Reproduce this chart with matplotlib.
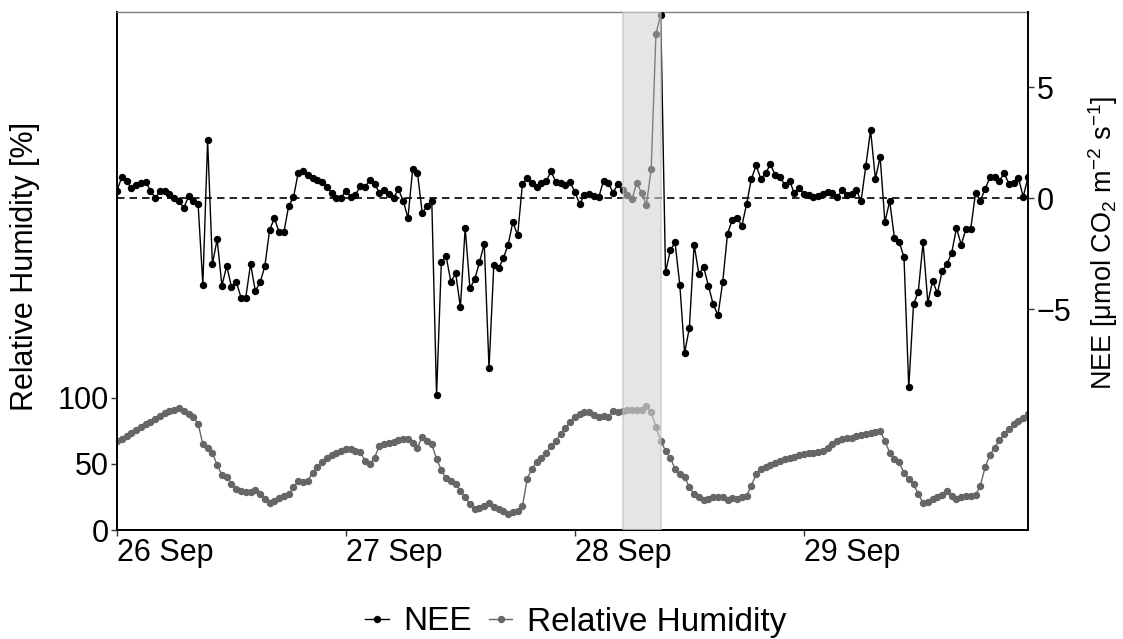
import numpy as np
import pandas as pd
import matplotlib
matplotlib.use("Agg")
import matplotlib.pyplot as plt
import matplotlib.dates as mdates
from matplotlib.lines import Line2D

plt.rcParams['font.family'] = ['Liberation Sans', 'DejaVu Sans']
plt.rcParams['mathtext.fontset'] = 'custom'
plt.rcParams['mathtext.rm'] = 'Liberation Sans'
plt.rcParams['mathtext.it'] = 'Liberation Sans:italic'

# half-hourly series, 26 Sep 00:00 to 29 Sep 23:30
times = pd.date_range('2019-09-26 00:00', periods=192, freq='30min')

nee = [
    0.34, 0.94, 0.75, 0.45, 0.60, 0.68, 0.74, 0.34, 0.00, 0.30, 0.30, 0.20,
    0.00, -0.12, -0.45, 0.08, -0.12, -0.26, -3.90, 2.60, -2.97, -1.86, -3.95, -3.05,
    -4.00, -3.77, -4.48, -4.48, -2.97, -4.18, -3.80, -3.07, -1.42, -0.92, -1.53, -1.53,
    -0.35, 0.03, 1.15, 1.21, 1.05, 0.90, 0.82, 0.74, 0.48, 0.24, 0.00, 0.00,
    0.34, 0.06, 0.14, 0.55, 0.49, 0.82, 0.64, 0.24, 0.36, 0.18, 0.02, 0.39,
    -0.11, -0.90, 1.32, 1.12, -0.68, -0.35, -0.15, -8.88, -2.89, -2.62, -3.77, -3.39,
    -4.91, -1.35, -4.07, -3.65, -2.89, -2.06, -7.67, -3.02, -3.17, -2.71, -2.10, -1.08,
    -1.68, 0.64, 0.89, 0.67, 0.48, 0.70, 0.77, 1.20, 0.74, 0.67, 0.59, 0.71,
    0.28, -0.27, 0.15, 0.20, 0.11, 0.03, 0.79, 0.70, 0.24, 0.62, 0.35, 0.15,
    -0.03, 0.70, 0.21, -0.30, 1.32, 7.41, 8.24, -3.35, -2.36, -2.00, -3.91, -6.98,
    -5.85, -2.10, -3.42, -3.11, -3.95, -4.79, -5.27, -3.77, -1.61, -0.97, -0.88, -1.26,
    -0.27, 0.86, 1.47, 0.86, 1.12, 1.53, 1.03, 0.97, 0.59, 0.79, 0.21, 0.44,
    0.20, 0.15, 0.03, 0.08, 0.18, 0.27, 0.23, 0.03, 0.35, 0.15, 0.18, 0.38,
    -0.15, 1.45, 3.06, 0.86, 1.85, -1.08, -0.14, -1.80, -1.97, -2.67, -8.53, -4.79,
    -4.21, -2.00, -4.71, -3.73, -4.29, -3.30, -2.97, -2.47, -1.35, -2.10, -1.38, -1.38,
    0.23, -0.11, 0.39, 0.94, 0.94, 0.77, 1.12, 0.64, 0.67, 0.89, 0.06, 0.94,
]

rh = [
    67.4, 69.2, 71.2, 73.7, 75.8, 78.3, 80.1, 81.9, 83.9, 86.4, 88.5, 90.2,
    91.0, 92.0, 89.7, 87.7, 85.7, 80.5, 64.9, 62.4, 58.6, 49.1, 41.8, 40.3,
    34.8, 31.0, 29.7, 29.0, 28.5, 30.2, 27.2, 23.5, 20.4, 22.1, 23.9, 25.4,
    27.2, 32.2, 37.2, 36.0, 37.2, 43.5, 47.8, 51.1, 54.3, 56.6, 58.6, 59.9,
    61.1, 61.6, 59.9, 59.1, 52.3, 49.8, 54.8, 63.6, 65.4, 66.1, 66.6, 68.2,
    68.7, 69.2, 66.1, 62.4, 70.7, 67.4, 64.9, 53.6, 45.5, 39.0, 37.2, 34.8,
    29.7, 24.7, 19.6, 15.9, 16.4, 18.4, 20.4, 17.6, 15.9, 14.1, 12.1, 13.3,
    14.6, 17.9, 38.5, 46.5, 51.1, 54.8, 58.6, 63.6, 67.4, 72.4, 77.5, 81.5,
    85.2, 87.7, 89.0, 89.0, 87.0, 85.2, 86.0, 85.2, 90.2, 89.5, 89.7, 91.0,
    90.7, 91.0, 90.7, 93.5, 89.5, 77.6, 67.5, 60.0, 54.8, 46.0, 42.3, 40.2,
    32.2, 27.2, 24.7, 22.9, 23.4, 24.7, 24.7, 24.7, 22.9, 24.2, 23.4, 24.7,
    26.0, 33.5, 42.3, 46.0, 48.0, 49.3, 50.6, 52.3, 53.6, 54.8, 55.6, 56.6,
    57.4, 58.1, 58.6, 59.1, 59.9, 62.4, 64.9, 67.4, 68.7, 69.4, 69.9, 71.2,
    71.7, 72.9, 73.7, 74.2, 74.9, 67.4, 58.6, 53.6, 51.1, 43.1, 38.5, 34.8,
    27.2, 20.4, 20.9, 23.4, 24.7, 26.5, 29.7, 25.4, 23.4, 24.7, 25.4, 26.0,
    26.5, 33.5, 47.3, 56.6, 62.4, 67.9, 72.4, 76.7, 80.0, 82.5, 85.0, 87.7,
]

gap_start = pd.Timestamp('2019-09-28 05:00')
gap_end = pd.Timestamp('2019-09-28 09:00')

nee_col = 'black'
rh_col = '#666666'

fig = plt.figure(figsize=(11.23, 6.39), dpi=100)
ax = fig.add_axes([117/1123, 1 - 530/639, 911/1123, 518/639])
ax2 = ax.twinx()

# relative humidity on the left axis
ax.plot(times, rh, color=rh_col, lw=1.0, marker='o', ms=4.3, zorder=2)
ax.set_ylim(0, 392)
ax.set_yticks([0, 50, 100])
ax.set_ylabel('Relative Humidity [%]', fontsize=22)
ax.yaxis.set_label_coords(-0.085, 0.508)

# NEE on the right axis
ax2.axhline(0, color='black', lw=1.2, dashes=(4.5, 3), zorder=1)
ax2.plot(times, nee, color=nee_col, lw=1.0, marker='o', ms=4.3, zorder=2)
ax2.axvspan(gap_start, gap_end, facecolor='#d4d4d4', edgecolor='#bdbdbd',
            lw=1.2, alpha=0.6, zorder=5)
ax2.set_ylim(-14.95, 8.38)
ax2.set_yticks([-5, 0, 5])
ax2.set_ylabel(r'NEE [μmol CO$_2$ m$^{-2}$ s$^{-1}$]', fontsize=19.5)
ax2.yaxis.set_label_coords(1.064, 0.555)

ax.set_xlim(times[0], times[-1])
ax.xaxis.set_major_locator(mdates.DayLocator())
ax.xaxis.set_major_formatter(mdates.DateFormatter('%d %b'))
for lab in ax.get_xticklabels():
    lab.set_ha('left')

for a in (ax, ax2):
    a.tick_params(direction='out', length=4, width=1, color='#333333',
                  labelsize=22, pad=2)
    a.patch.set_visible(False)

ax.spines['right'].set_visible(False)
ax.spines['top'].set_color('#7f7f7f')
ax.spines['top'].set_linewidth(1.0)
for s in ('left', 'bottom'):
    ax.spines[s].set_linewidth(1.4)
for s in ('left', 'bottom', 'top'):
    ax2.spines[s].set_visible(False)
ax2.spines['right'].set_linewidth(1.4)

handles = [
    Line2D([], [], color=nee_col, lw=1.0, marker='o', ms=4.3),
    Line2D([], [], color=rh_col, lw=1.0, marker='o', ms=4.3),
]
fig.legend(handles, ['NEE', 'Relative Humidity'], loc='center',
           bbox_to_anchor=(576/1123, 1 - 622/639), ncol=2, frameon=False,
           fontsize=24, handlelength=0.7, handletextpad=0.45, columnspacing=0.5)

fig.savefig('out.png', dpi=100)
